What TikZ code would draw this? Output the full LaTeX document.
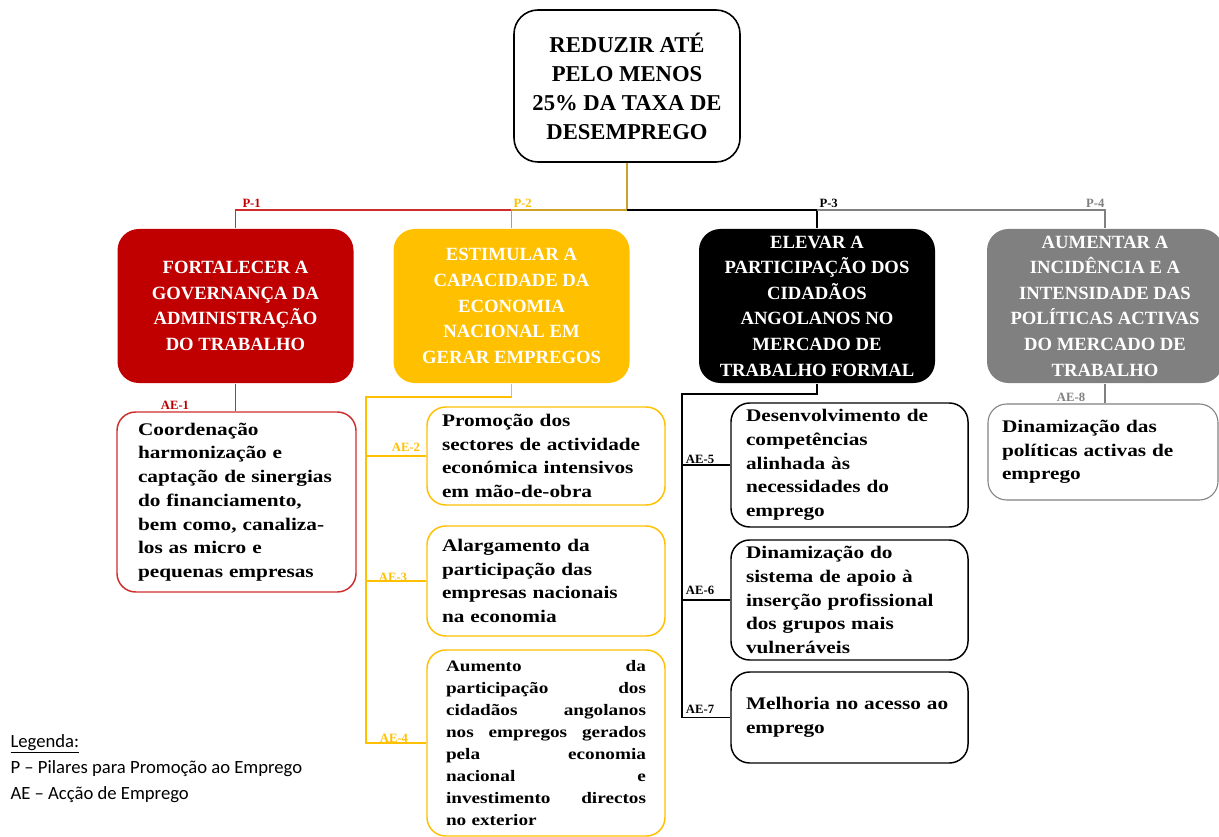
\documentclass[tikz,border=0pt]{standalone}
\usepackage{fontspec}
\setmainfont{Liberation Serif}
\newfontfamily\stretchfont{Liberation Serif}[FakeStretch=1.2]
\newfontfamily\legendfont{Carlito}

\definecolor{pilRed}{RGB}{192,0,0}
\definecolor{pilYellow}{RGB}{255,192,0}
\definecolor{pilGray}{RGB}{128,128,128}
\definecolor{edgeRed}{RGB}{208,44,44}
\definecolor{edgeGold}{RGB}{205,160,40}

\tikzset{every picture/.style={line width=0.75pt}}
\tikzset{
	goalbox/.style={draw=black, line width=1.2pt, rounded corners=18pt, align=center, inner sep=0pt, minimum width=169.5pt, minimum height=114pt, font=\bfseries\fontsize{17}{21.75}\selectfont},
	pillar/.style={rounded corners=16pt, align=center, inner sep=0pt, text=white, minimum width=177pt, minimum height=115.5pt, font=\bfseries\fontsize{14}{19.2}\selectfont},
	action/.style={draw, line width=1.1pt, rounded corners=14pt, align=left, inner ysep=0pt, text=black, font=\stretchfont\bfseries\fontsize{13.3}{17.8}\selectfont},
	tag/.style={inner sep=0pt, font=\bfseries\fontsize{9.5}{10}\selectfont},
	lineRed/.style={draw=edgeRed, line width=1pt},
	lineGold/.style={draw=edgeGold, line width=1pt},
	lineYellow/.style={draw=pilYellow, line width=1pt},
	lineBlack/.style={draw=black, line width=1pt},
	lineGray/.style={draw=pilGray, line width=1pt},
}

\begin{document}
\begin{tikzpicture}[x=0.75pt,y=0.75pt,yscale=-1,xscale=1]
	\useasboundingbox (0,0) rectangle (1219,837);
	
	%Shape: Goal [id:goal]
	\node [goalbox] (goal) at (627,86) {REDUZIR ATÉ\\PELO MENOS\\25\% DA TAXA DE\\DESEMPREGO};
	
	%Shape: Pillars [id:p1-p4]
	\node [pillar, fill=pilRed] (p1) at (235.5,306) {FORTALECER A\\GOVERNANÇA DA\\ADMINISTRAÇÃO\\DO TRABALHO};
	\node [pillar, fill=pilYellow] (p2) at (511.5,306) {ESTIMULAR A\\CAPACIDADE DA\\ECONOMIA\\NACIONAL EM\\GERAR EMPREGOS};
	\node [pillar, fill=black] (p3) at (817,306) {ELEVAR A\\PARTICIPAÇÃO DOS\\CIDADÃOS\\ANGOLANOS NO\\MERCADO DE\\TRABALHO FORMAL};
	\node [pillar, fill=pilGray] (p4) at (1105,306) {AUMENTAR A\\INCIDÊNCIA E A\\INTENSIDADE DAS\\POLÍTICAS ACTIVAS\\DO MERCADO DE\\TRABALHO};
	
	%Shape: Actions [id:ae1-ae8]
	\node [action, draw=edgeRed, text width=147.75pt, inner xsep=15.75pt, minimum height=135pt] (ae1) at (236.5,502) {Coordenação\\harmonização e\\captação de sinergias\\do financiamento,\\bem como, canaliza-\\los as micro e\\pequenas empresas};
	\node [action, draw=pilYellow, text width=156pt, inner xsep=11.25pt, minimum height=73.5pt] (ae2) at (546,456) {Promoção dos\\sectores de actividade\\económica intensivos\\em mão-de-obra};
	\node [action, draw=pilYellow, text width=156pt, inner xsep=11.25pt, minimum height=82.5pt] (ae3) at (546,581) {Alargamento da\\participação das\\empresas nacionais\\na economia};
	\node [action, draw=pilYellow, text width=150pt, inner xsep=14.25pt, minimum height=139.5pt, font=\stretchfont\bfseries\fontsize{12}{16.5}\selectfont] (ae4) at (546,743) {Aumento \hfill da\\participação \hfill dos\\cidadãos \hfill angolanos\\nos \hfill empregos \hfill gerados\\pela \hfill economia\\nacional \hfill e\\investimento \hfill directos\\no exterior};
	\node [action, draw=black, text width=155.25pt, inner xsep=11.25pt, minimum height=93pt] (ae5) at (849.5,465) {Desenvolvimento de\\competências\\alinhada às\\necessidades do\\emprego};
	\node [action, draw=black, text width=155.25pt, inner xsep=11.25pt, minimum height=90pt] (ae6) at (849.5,600) {Dinamização do\\sistema de apoio à\\inserção profissional\\dos grupos mais\\vulneráveis};
	\node [action, draw=black, text width=155.25pt, inner xsep=11.25pt, minimum height=68.25pt] (ae7) at (849.5,717.5) {Melhoria no acesso ao\\emprego};
	\node [action, draw=pilGray, line width=0.8pt, text width=151.5pt, inner xsep=10.5pt, minimum height=72pt] (ae8) at (1103,452) {Dinamização das\\políticas activas de\\emprego};
	
	%Straight Lines [id:bus]
	\coordinate (bus) at (627,210);
	\draw [lineGold] (goal.south) -- (bus);
	\draw [lineRed] (p1.north) |- (p2.north |- bus);
	\draw [lineGold] (p2.north) |- (bus);
	\draw [lineBlack] (bus) -| (p3.north);
	\draw [lineGray] (p3.north |- bus) -| (p4.north);
	
	%Straight Lines [id:branches]
	\draw [lineRed] (p1.south) -- (p1.south |- ae1.north);
	\coordinate (ytrunk) at (366,397);
	\draw [lineYellow] (p2.south) |- (ytrunk) |- (ae4.west);
	\draw [lineYellow] (ytrunk |- ae2.west) -- (ae2.west);
	\draw [lineYellow] (ytrunk |- ae3.west) -- (ae3.west);
	\coordinate (btrunk) at (682,394);
	\draw [lineBlack] (p3.south) |- (btrunk) |- (ae7.west);
	\draw [lineBlack] (btrunk |- ae5.west) -- (ae5.west);
	\draw [lineBlack] (btrunk |- ae6.west) -- (ae6.west);
	\draw [lineGray] (p4.south) -- (p4.south |- ae8.north);
	
	% Text Node
	\node [tag, text=pilRed, anchor=south west] (t1) at (242,208) {P-1};
	\node [tag, text=pilYellow, anchor=south west] (t2) at (513,208) {P-2};
	\node [tag, anchor=south west] (t3) at (819,208) {P-3};
	\node [tag, text=pilGray, anchor=south east] (t4) at (1105,208) {P-4};
	% Text Node
	\node [tag, text=pilRed] (a1) at (175,405) {AE-1};
	\node [tag, text=pilYellow] (a2) at (406,447) {AE-2};
	\node [tag, text=pilYellow] (a3) at (393,577) {AE-3};
	\node [tag, text=pilYellow] (a4) at (394,738) {AE-4};
	\node [tag] (a5) at (700,459) {AE-5};
	\node [tag] (a6) at (700,590) {AE-6};
	\node [tag] (a7) at (700,709) {AE-7};
	\node [tag, text=pilGray] (a8) at (1071,397) {AE-8};
	% Text Node
	\node [anchor=north west, inner sep=0pt, align=left, font=\legendfont\fontsize{14}{19.5}\selectfont] (legend) at (10,734) {\underline{Legenda:}\\P – Pilares para Promoção ao Emprego\\AE – Acção de Emprego};
	
\end{tikzpicture}
\end{document}
